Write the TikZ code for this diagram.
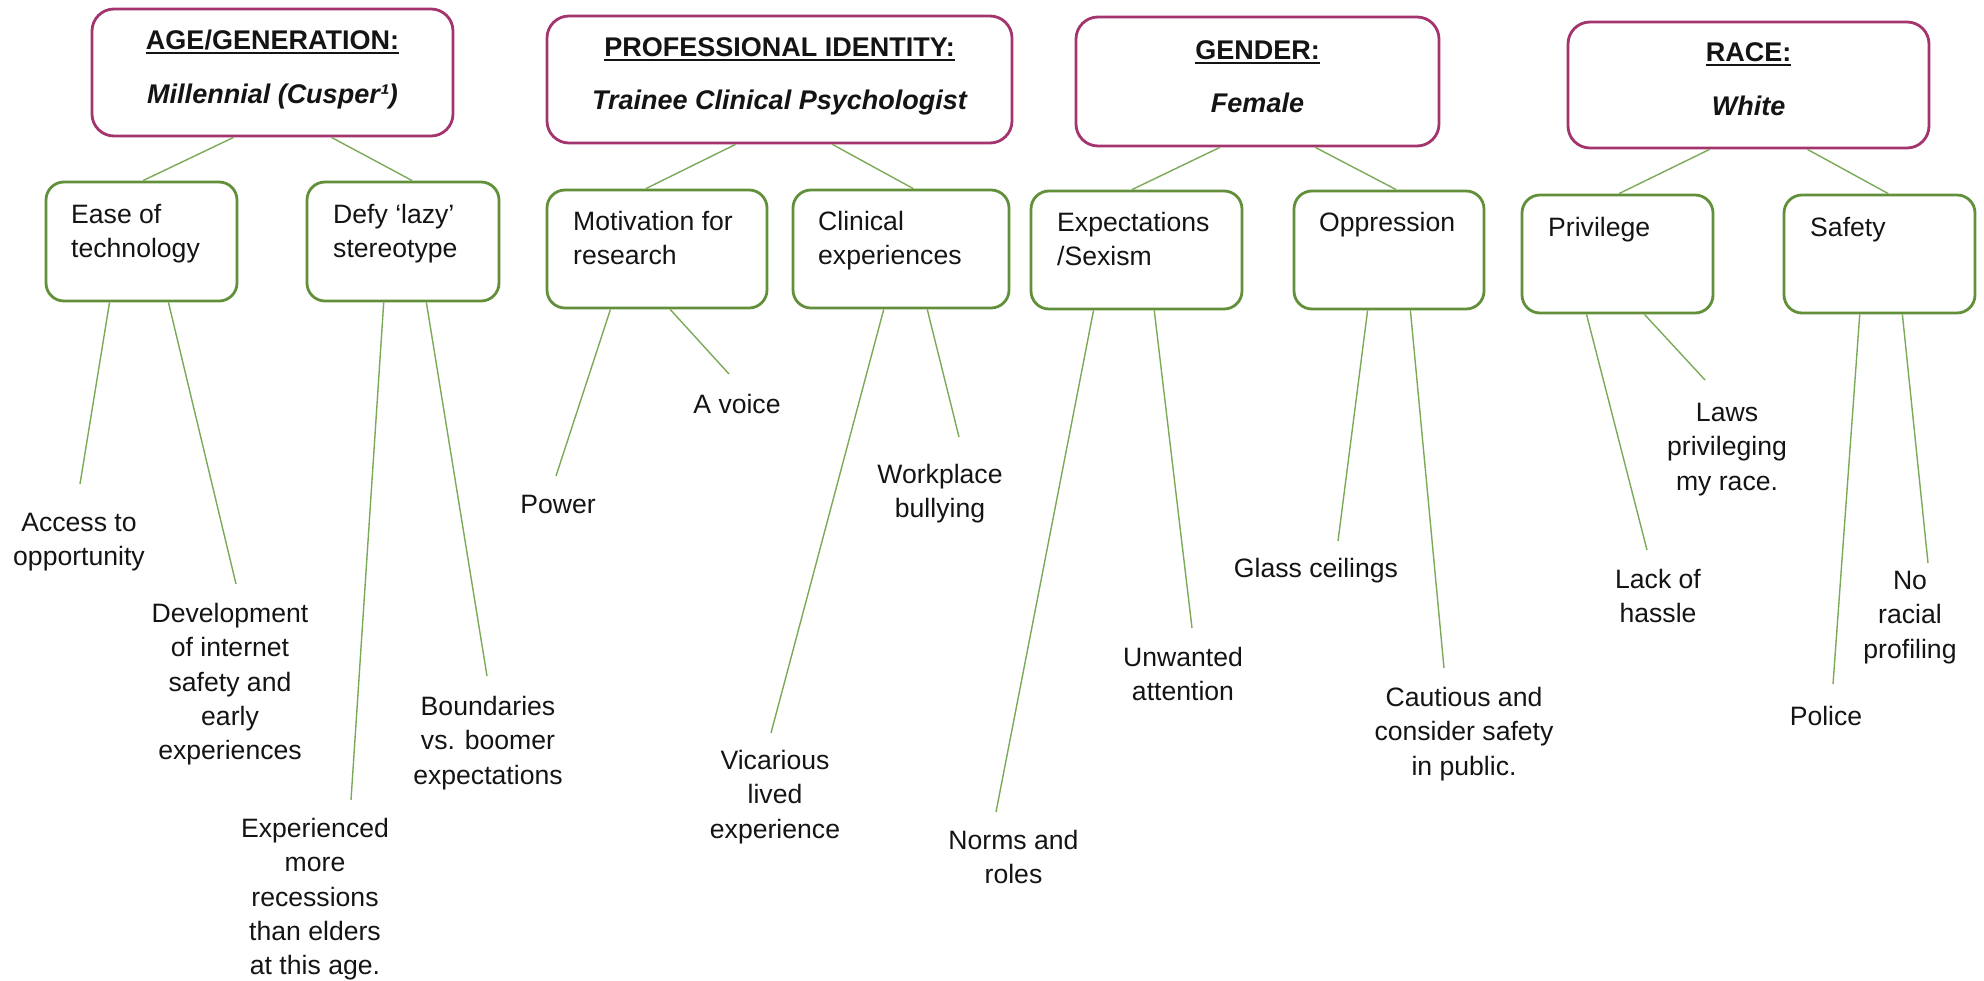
\documentclass[tikz,border=0pt]{standalone}
\usepackage{fontspec}
\setmainfont{Liberation Sans}
\usetikzlibrary{calc}
\definecolor{catedge}{RGB}{163,52,110}
\definecolor{subedge}{RGB}{98,143,58}
\definecolor{linkgreen}{RGB}{122,170,88}
\definecolor{ink}{RGB}{20,20,20}
\tikzset{
  catbox/.style={draw=catedge, line width=2.8pt, rounded corners=22pt, inner sep=0pt, fill=white},
  subbox/.style={draw=subedge, line width=2.8pt, rounded corners=18pt, inner sep=0pt},
  link/.style={draw=linkgreen, line width=1.4pt},
  rule/.style={draw=ink, line width=2pt},
  cattitle/.style={inner sep=0pt, anchor=base, font=\fontsize{27}{34}\selectfont\bfseries, text=ink},
  catsub/.style={inner sep=0pt, anchor=base, font=\fontsize{27}{34}\selectfont\bfseries\itshape, text=ink},
  boxtext/.style={inner sep=0pt, anchor=north west, align=left, font=\fontsize{26.6}{34.3}\selectfont, text=ink},
  leaf/.style={inner sep=0pt, anchor=north, align=center, font=\fontsize{26.6}{34.4}\selectfont, text=ink},
}
\begin{document}
\begin{tikzpicture}[x=1pt,y=-1pt]
\useasboundingbox (0,0) rectangle (1984,981);

% category boxes
\node[catbox, minimum width=361pt, minimum height=127pt] (age) at (272.5,72.5) {};
\node[catbox, minimum width=465pt, minimum height=127pt] (prof) at (779.5,79.5) {};
\node[catbox, minimum width=363pt, minimum height=129pt] (gender) at (1257.5,81.5) {};
\node[catbox, minimum width=361pt, minimum height=126pt] (race) at (1748.5,85) {};

\node[cattitle] (ageT) at (272.5,50) {AGE/GENERATION:};
\node[catsub] (ageS) at (272.5,104) {Millennial (Cusper¹)};
\node[cattitle] (profT) at (779.5,57) {PROFESSIONAL IDENTITY:};
\node[catsub] (profS) at (779.5,110) {Trainee Clinical Psychologist};
\node[cattitle] (genderT) at (1257.5,60) {GENDER:};
\node[catsub] (genderS) at (1257.5,113) {Female};
\node[cattitle] (raceT) at (1748.5,62) {RACE:};
\node[catsub] (raceS) at (1748.5,116) {White};

\foreach \t in {ageT,profT,genderT,raceT}
  \draw[rule] ($(\t.base west)+(0,3)$) -- ($(\t.base east)+(0,3)$);

% sub-theme boxes
\node[subbox, minimum width=191pt, minimum height=119pt] (ease) at (141.5,241.5) {};
\node[subbox, minimum width=192pt, minimum height=119pt] (defy) at (403,241.5) {};
\node[subbox, minimum width=220pt, minimum height=118pt] (motiv) at (657,249) {};
\node[subbox, minimum width=216pt, minimum height=118pt] (clin) at (901,249) {};
\node[subbox, minimum width=211pt, minimum height=118pt] (expt) at (1136.5,250) {};
\node[subbox, minimum width=190pt, minimum height=118pt] (oppr) at (1389,250) {};
\node[subbox, minimum width=191pt, minimum height=118pt] (priv) at (1617.5,254) {};
\node[subbox, minimum width=191pt, minimum height=118pt] (safe) at (1879.5,254) {};

\node[boxtext] (easeL) at (71,199) {\strut Ease of\\technology};
\node[boxtext] (defyL) at (333,199) {\strut Defy ‘lazy’\\stereotype};
\node[boxtext] (motivL) at (573,206) {\strut Motivation for\\research};
\node[boxtext] (clinL) at (818,206) {\strut Clinical\\experiences};
\node[boxtext] (exptL) at (1057,207) {\strut Expectations\\/Sexism};
\node[boxtext] (opprL) at (1319,207) {\strut Oppression};
\node[boxtext] (privL) at (1548,212) {\strut Privilege};
\node[boxtext] (safeL) at (1810,212) {\strut Safety};

% category to sub-theme links
\draw[link] ($(age.south west)!0.393!(age.south east)$) -- ($(ease.north west)!0.508!(ease.north east)$);
\draw[link] ($(age.south west)!0.662!(age.south east)$) -- ($(defy.north west)!0.547!(defy.north east)$);
\draw[link] ($(prof.south west)!0.406!(prof.south east)$) -- ($(motiv.north west)!0.45!(motiv.north east)$);
\draw[link] ($(prof.south west)!0.613!(prof.south east)$) -- ($(clin.north west)!0.556!(clin.north east)$);
\draw[link] ($(gender.south west)!0.397!(gender.south east)$) -- ($(expt.north west)!0.479!(expt.north east)$);
\draw[link] ($(gender.south west)!0.658!(gender.south east)$) -- ($(oppr.north west)!0.537!(oppr.north east)$);
\draw[link] ($(race.south west)!0.393!(race.south east)$) -- ($(priv.north west)!0.508!(priv.north east)$);
\draw[link] ($(race.south west)!0.662!(race.south east)$) -- ($(safe.north west)!0.545!(safe.north east)$);

% leaf texts
\node[leaf] (access) at (79,507) {\strut Access to\\opportunity};
\node[leaf] (devel) at (230,598) {\strut Development\\of internet\\safety and\\early\\experiences};
\node[leaf] (exper) at (315,813) {\strut Experienced\\more\\recessions\\than elders\\at this age.};
\node[leaf] (bound) at (488,691) {\strut Boundaries\\vs. boomer\\expectations};
\node[leaf] (power) at (558,489) {\strut Power};
\node[leaf] (voice) at (737,389) {\strut A voice};
\node[leaf] (vicar) at (775,745) {\strut Vicarious\\lived\\experience};
\node[leaf] (bully) at (940,459) {\strut Workplace\\bullying};
\node[leaf] (norms) at (1013.5,825) {\strut Norms and\\roles};
\node[leaf] (unwant) at (1183,642) {\strut Unwanted\\attention};
\node[leaf] (glass) at (1316,553) {\strut Glass ceilings};
\node[leaf] (caut) at (1464,682) {\strut Cautious and\\consider safety\\in public.};
\node[leaf] (hassle) at (1658,564) {\strut Lack of\\hassle};
\node[leaf] (laws) at (1727,397) {\strut Laws\\privileging\\my race.};
\node[leaf] (police) at (1826,701) {\strut Police};
\node[leaf] (profil) at (1910,565) {\strut No\\racial\\profiling};

% free ends of the leaf links
\coordinate (accessE) at (80,484);
\coordinate (develE) at (236,584);
\coordinate (experE) at (351,800);
\coordinate (boundE) at (487,676);
\coordinate (powerE) at (556,476);
\coordinate (voiceE) at (729,374);
\coordinate (vicarE) at (771,733);
\coordinate (bullyE) at (959,437);
\coordinate (normsE) at (996,812);
\coordinate (unwantE) at (1192,628);
\coordinate (glassE) at (1338,541);
\coordinate (cautE) at (1444,668);
\coordinate (hassleE) at (1647,550);
\coordinate (lawsE) at (1705,380);
\coordinate (policeE) at (1833,684);
\coordinate (profilE) at (1928,563);

% sub-theme to leaf links
\draw[link] ($(ease.south west)!0.335!(ease.south east)$) -- (accessE);
\draw[link] ($(ease.south west)!0.639!(ease.south east)$) -- (develE);
\draw[link] ($(defy.south west)!0.401!(defy.south east)$) -- (experE);
\draw[link] ($(defy.south west)!0.62!(defy.south east)$) -- (boundE);
\draw[link] ($(motiv.south west)!0.291!(motiv.south east)$) -- (powerE);
\draw[link] ($(motiv.south west)!0.559!(motiv.south east)$) -- (voiceE);
\draw[link] ($(clin.south west)!0.421!(clin.south east)$) -- (vicarE);
\draw[link] ($(clin.south west)!0.62!(clin.south east)$) -- (bullyE);
\draw[link] ($(expt.south west)!0.299!(expt.south east)$) -- (normsE);
\draw[link] ($(expt.south west)!0.583!(expt.south east)$) -- (unwantE);
\draw[link] ($(oppr.south west)!0.389!(oppr.south east)$) -- (glassE);
\draw[link] ($(oppr.south west)!0.611!(oppr.south east)$) -- (cautE);
\draw[link] ($(priv.south west)!0.34!(priv.south east)$) -- (hassleE);
\draw[link] ($(priv.south west)!0.639!(priv.south east)$) -- (lawsE);
\draw[link] ($(safe.south west)!0.398!(safe.south east)$) -- (policeE);
\draw[link] ($(safe.south west)!0.618!(safe.south east)$) -- (profilE);
\end{tikzpicture}
\end{document}
